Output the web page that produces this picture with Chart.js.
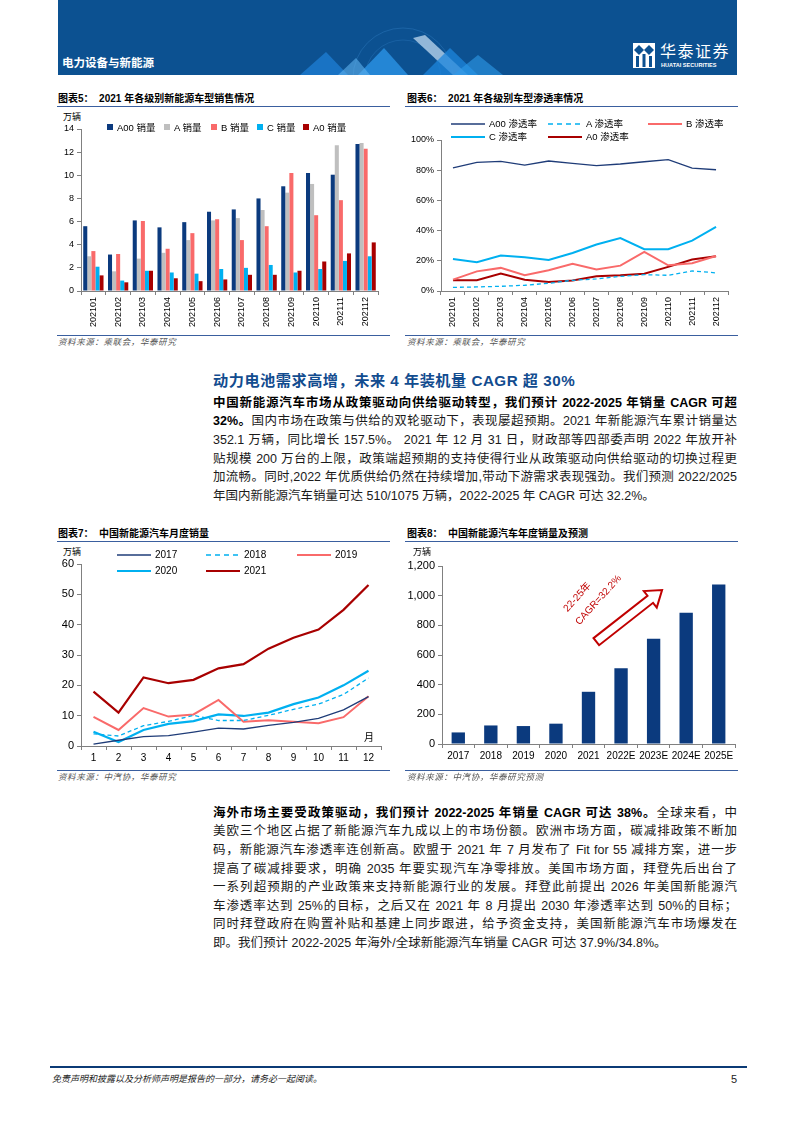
<!DOCTYPE html>
<html>
<head>
<meta charset="utf-8">
<script src="https://cdn.jsdelivr.net/npm/chart.js@4.4.1/dist/chart.umd.min.js"></script>
<style>
body{margin:0;width:793px;height:1122px;position:relative;background:#fff;overflow:hidden;
  font-family:"Liberation Sans","Noto Sans CJK SC",sans-serif;color:#111}
.abs{position:absolute}
.banner{left:58px;top:0;width:679px;height:75px;background:#0C5191;overflow:hidden}
.ctitle{font-size:10px;font-weight:700;line-height:14px;white-space:nowrap;color:#000}
.rule{height:1px;background:#3A5F9F}
.src{font-size:8.5px;line-height:12px;color:#555;letter-spacing:0.6px;font-style:italic}
.leg{font-size:9.5px;line-height:14px;white-space:nowrap;color:#000}
.ln{position:absolute;left:213px;width:524px;height:18.6px;line-height:18.6px;font-size:12.5px;
  text-align:justify;text-align-last:justify;color:#1a1a1a}
.ln.last{text-align-last:left}
.ln b{font-weight:700;color:#000}
.head{left:213px;top:370px;font-size:15.2px;font-weight:700;color:#124C8F;letter-spacing:0.5px;line-height:22px;white-space:nowrap}
</style>
</head>
<body>

<!-- header -->
<div class="abs banner">
  <svg width="679" height="75" style="position:absolute;left:0;top:0">
    <circle cx="345" cy="78" r="50" fill="none" stroke="#3F8FD8" stroke-width="0.6" opacity="0.5"/>
    <circle cx="345" cy="78" r="38" fill="none" stroke="#3F8FD8" stroke-width="0.6" opacity="0.4"/>
    <polygon points="242,75 268,52 290,75" fill="#1E7FD6" opacity="0.75"/>
    <polygon points="300,75 326,48 350,75" fill="#2A93E6" opacity="0.8"/>
    <polygon points="355,38 367,35 410,75 395,75" fill="#BFD9F0" opacity="0.75"/>
    <polygon points="365,75 392,48 420,75" fill="#1C86DC" opacity="0.75"/>
    <polygon points="395,75 420,55 445,75" fill="#2E9BEA" opacity="0.6"/>
    <polygon points="280,75 298,58 312,75" fill="#5FB2EE" opacity="0.6"/>
  </svg>
  <div class="abs" style="left:4px;top:54px;font-size:11.5px;font-weight:700;color:#fff;line-height:16px;font-family:'Noto Sans CJK SC'">电力设备与新能源</div>
  <svg class="abs" style="left:575px;top:43px" width="22" height="25">
    <rect x="0" y="0" width="22" height="25" fill="#fff"/>
    <polygon points="6,2 11,7 6,12 1,7" fill="#0C5191"/>
    <polygon points="16,2 21,7 16,12 11,7" fill="#0C5191"/>
    <rect x="3" y="13" width="3" height="11" fill="#0C5191"/>
    <rect x="9.5" y="11" width="3" height="13" fill="#0C5191"/>
    <rect x="16" y="13" width="3" height="11" fill="#0C5191"/>
  </svg>
  <div class="abs" style="left:602px;top:40px;font-size:16px;color:#fff;line-height:20px;letter-spacing:1.5px;font-family:'Noto Sans CJK SC'">华泰证券</div>
  <div class="abs" style="left:603px;top:61px;font-size:5.6px;font-weight:700;color:#fff;line-height:8px;white-space:nowrap">HUATAI SECURITIES</div>
</div>

<!-- chart 5 -->
<div class="abs ctitle" style="left:58px;top:92px">图表5：&nbsp; 2021 年各级别新能源车型销售情况</div>
<div class="abs rule" style="left:57px;top:106px;width:333px"></div>
<div class="abs leg" style="left:63px;top:110px;font-size:9px">万辆</div>
<canvas id="c5" class="abs" width="345" height="222" style="left:45px;top:112px"></canvas>
<div class="abs rule" style="left:57px;top:335px;width:333px"></div>
<div class="abs src" style="left:58px;top:336px">资料来源：乘联会，华泰研究</div>

<!-- chart 6 -->
<div class="abs ctitle" style="left:407px;top:92px">图表6：&nbsp; 2021 年各级别车型渗透率情况</div>
<div class="abs rule" style="left:405px;top:106px;width:333px"></div>
<canvas id="c6" class="abs" width="345" height="222" style="left:400px;top:112px"></canvas>
<div class="abs rule" style="left:405px;top:335px;width:333px"></div>
<div class="abs src" style="left:407px;top:336px">资料来源：乘联会，华泰研究</div>

<!-- paragraph 1 -->
<div class="abs head">动力电池需求高增，未来 4 年装机量 CAGR 超 30%</div>
<div class="ln" style="top:393.7px"><b>中国新能源汽车市场从政策驱动向供给驱动转型，我们预计 2022-2025 年销量 CAGR 可超</b></div>
<div class="ln" style="top:412.3px"><b>32%。</b>国内市场在政策与供给的双轮驱动下，表现屡超预期。2021 年新能源汽车累计销量达</div>
<div class="ln" style="top:430.9px">352.1 万辆，同比增长 157.5%。 2021 年 12 月 31 日，财政部等四部委声明 2022 年放开补</div>
<div class="ln" style="top:449.5px">贴规模 200 万台的上限，政策端超预期的支持使得行业从政策驱动向供给驱动的切换过程更</div>
<div class="ln" style="top:468.1px">加流畅。同时,2022 年优质供给仍然在持续增加,带动下游需求表现强劲。我们预测 2022/2025</div>
<div class="ln last" style="top:486.7px">年国内新能源汽车销量可达 510/1075 万辆，2022-2025 年 CAGR 可达 32.2%。</div>

<!-- chart 7 -->
<div class="abs ctitle" style="left:58px;top:527px">图表7：&nbsp; 中国新能源汽车月度销量</div>
<div class="abs rule" style="left:57px;top:541px;width:333px"></div>
<div class="abs leg" style="left:63px;top:545px;font-size:9px">万辆</div>
<canvas id="c7" class="abs" width="345" height="222" style="left:45px;top:545px"></canvas>
<div class="abs leg" style="left:364px;top:731px;font-size:10px">月</div>
<div class="abs rule" style="left:57px;top:770px;width:333px"></div>
<div class="abs src" style="left:58px;top:771px">资料来源：中汽协，华泰研究</div>

<!-- chart 8 -->
<div class="abs ctitle" style="left:407px;top:527px">图表8：&nbsp; 中国新能源汽车年度销量及预测</div>
<div class="abs rule" style="left:405px;top:541px;width:333px"></div>
<div class="abs leg" style="left:413px;top:545px;font-size:9px">万辆</div>
<canvas id="c8" class="abs" width="345" height="222" style="left:400px;top:545px"></canvas>
<div class="abs rule" style="left:405px;top:770px;width:333px"></div>
<div class="abs src" style="left:407px;top:771px">资料来源：中汽协，华泰研究预测</div>

<!-- paragraph 2 -->
<div class="ln" style="top:803.7px"><b>海外市场主要受政策驱动，我们预计 2022-2025 年销量 CAGR 可达 38%。</b>全球来看，中</div>
<div class="ln" style="top:822.3px">美欧三个地区占据了新能源汽车九成以上的市场份额。欧洲市场方面，碳减排政策不断加</div>
<div class="ln" style="top:840.9px">码，新能源汽车渗透率连创新高。欧盟于 2021 年 7 月发布了 Fit for 55 减排方案，进一步</div>
<div class="ln" style="top:859.5px">提高了碳减排要求，明确 2035 年要实现汽车净零排放。美国市场方面，拜登先后出台了</div>
<div class="ln" style="top:878.1px">一系列超预期的产业政策来支持新能源行业的发展。拜登此前提出 2026 年美国新能源汽</div>
<div class="ln" style="top:896.7px">车渗透率达到 25%的目标，之后又在 2021 年 8 月提出 2030 年渗透率达到 50%的目标；</div>
<div class="ln" style="top:915.3px">同时拜登政府在购置补贴和基建上同步跟进，给予资金支持，美国新能源汽车市场爆发在</div>
<div class="ln last" style="top:933.9px">即。我们预计 2022-2025 年海外/全球新能源汽车销量 CAGR 可达 37.9%/34.8%。</div>

<!-- footer -->
<div class="abs" style="left:50px;top:1066px;width:697px;height:2px;background:#0B3A75"></div>
<div class="abs" style="left:52px;top:1072px;font-size:9px;line-height:14px;font-style:italic;color:#222">免责声明和披露以及分析师声明是报告的一部分，请务必一起阅读。</div>
<div class="abs" style="left:731px;top:1072px;font-size:11px;line-height:15px;color:#222">5</div>

<script>
// ---- data ----
var months2021 = ["202101", "202102", "202103", "202104", "202105", "202106",
                  "202107", "202108", "202109", "202110", "202111", "202112"];
var a00Sales = [5.6, 3.15, 6.1, 5.5, 5.95, 6.85, 7.05, 8.0, 9.05, 10.2, 10.05, 12.7];
var aSales   = [3.0, 1.7, 2.8, 3.3, 4.4, 6.1, 6.3, 7.0, 8.5, 9.25, 12.6, 12.8];
var bSales   = [3.45, 3.2, 6.05, 3.65, 5.0, 6.2, 4.4, 5.6, 10.2, 6.55, 7.85, 12.3];
var cSales   = [2.1, 0.9, 1.75, 1.6, 1.5, 1.9, 2.0, 2.25, 1.6, 1.9, 2.6, 3.0];
var a0Sales  = [1.35, 0.75, 1.75, 1.1, 0.85, 1.0, 1.4, 1.4, 1.75, 2.55, 3.25, 4.2];

var a00Rate = [81.6, 85.2, 85.8, 83.4, 86.1, 84.5, 83.0, 84.1, 85.6, 87.0, 81.4, 80.3];
var aRate   = [2.4, 2.7, 3.1, 3.8, 5.1, 7.1, 8.0, 9.7, 10.8, 10.4, 13.3, 12.0];
var bRate   = [7.5, 13.0, 15.3, 10.4, 13.7, 18.0, 14.2, 16.8, 25.9, 17.0, 18.4, 23.2];
var cRate   = [21.2, 19.0, 23.5, 22.3, 20.6, 25.2, 30.8, 35.0, 27.7, 27.7, 33.4, 42.5];
var a0Rate  = [7.1, 7.1, 11.5, 7.5, 6.0, 6.9, 9.7, 10.4, 11.5, 16.0, 20.8, 23.0];

var monthLabels = ["1", "2", "3", "4", "5", "6", "7", "8", "9", "10", "11", "12"];
var sales2017 = [0.6, 1.9, 3.1, 3.4, 4.6, 5.9, 5.6, 6.8, 7.8, 9.1, 11.9, 16.3];
var sales2018 = [4.0, 3.3, 6.7, 8.1, 10.1, 8.4, 8.4, 10.1, 12.1, 13.8, 17.0, 22.4];
var sales2019 = [9.6, 5.3, 12.5, 9.7, 10.4, 15.2, 8.0, 8.5, 8.0, 7.5, 9.5, 16.4];
var sales2020 = [4.7, 1.3, 5.3, 7.3, 8.2, 10.4, 9.9, 11.0, 13.8, 16.0, 20.0, 24.8];
var sales2021 = [17.9, 11.0, 22.6, 20.7, 21.8, 25.6, 27.0, 32.1, 35.7, 38.4, 44.9, 53.1];

var years = ["2017", "2018", "2019", "2020", "2021", "2022E", "2023E", "2024E", "2025E"];
var yearSales = [78, 125, 121, 137, 352, 510, 710, 885, 1075];

var navy = "#0B3A7E", grey = "#BFBFBF", salmon = "#F96A6A", cyan = "#00B0F0", darkRed = "#A80000";

Chart.defaults.font.family = '"Liberation Sans", "Noto Sans CJK SC", sans-serif';
Chart.defaults.color = "#000";
Chart.defaults.animation = false;
Chart.defaults.plugins.legend.display = false;
Chart.defaults.plugins.tooltip.enabled = false;

function yAxis(max, step, width, size, fmt) {
  return {
    min: 0, max: max,
    ticks: { stepSize: step, font: { size: size }, padding: 3, callback: fmt },
    grid: { drawOnChartArea: false, drawTicks: true, tickLength: 4, color: "#808080" },
    border: { color: "#808080" },
    afterFit: function (s) { s.width = width; }
  };
}

function xAxis(height, size, rotate) {
  return {
    offset: true,
    ticks: { autoSkip: false, font: { size: size }, maxRotation: rotate, minRotation: rotate, padding: 2 },
    grid: { offset: true, drawOnChartArea: false, drawTicks: true, tickLength: 4, color: "#808080" },
    border: { color: "#808080" },
    afterFit: function (s) { s.height = height; }
  };
}

function boxLegend(datasets, slots, size) {
  datasets.forEach(function (d, i) {
    var el = document.createElement("div");
    el.className = "abs leg";
    el.style.left = slots[i][0] + "px";
    el.style.top = (slots[i][1] - 7) + "px";
    el.style.fontSize = size + "px";
    el.innerHTML = '<span style="display:inline-block;width:6px;height:6px;background:' + d.backgroundColor +
      ';margin-right:4px;vertical-align:1px"></span>' + d.label;
    document.body.appendChild(el);
  });
}

function lineLegend(datasets, slots, size) {
  datasets.forEach(function (d, i) {
    var el = document.createElement("div");
    el.className = "abs leg";
    el.style.left = slots[i][0] + "px";
    el.style.top = (slots[i][1] - 7) + "px";
    el.style.fontSize = size + "px";
    var dash = d.borderDash ? ' stroke-dasharray="5,4"' : "";
    el.innerHTML = '<svg width="34" height="14" style="vertical-align:top"><line x1="0" y1="7" x2="34" y2="7" stroke="' +
      d.borderColor + '" stroke-width="' + d.borderWidth + '"' + dash + '/></svg><span style="margin-left:4px">' + d.label + "</span>";
    document.body.appendChild(el);
  });
}

function line(label, data, color, width, dashed) {
  return { label: label, data: data, borderColor: color, backgroundColor: color, borderWidth: width,
    borderDash: dashed ? [4, 3] : undefined, pointRadius: 0, tension: 0, fill: false };
}

// ---- chart 5 ----
var ds5 = [
  { label: "A00 销量", data: a00Sales, backgroundColor: navy },
  { label: "A 销量", data: aSales, backgroundColor: grey },
  { label: "B 销量", data: bSales, backgroundColor: salmon },
  { label: "C 销量", data: cSales, backgroundColor: cyan },
  { label: "A0 销量", data: a0Sales, backgroundColor: darkRed }
];
new Chart(document.getElementById("c5"), {
  type: "bar",
  data: { labels: months2021, datasets: ds5 },
  options: {
    responsive: false,
    layout: { padding: { top: 17, right: 12, left: 0, bottom: 0 } },
    datasets: { bar: { categoryPercentage: 0.82, barPercentage: 1 } },
    scales: { x: xAxis(43, 9, 90), y: yAxis(14, 2, 36, 9) }
  }
});
boxLegend(ds5, [[107, 128], [164, 128], [211, 128], [257, 128], [303, 128]], 9.5);

// ---- chart 6 ----
var ds6 = [
  line("A00 渗透率", a00Rate, "#1F3C78", 1.3),
  line("A 渗透率", aRate, cyan, 1.3, true),
  line("B 渗透率", bRate, salmon, 2),
  line("C 渗透率", cRate, cyan, 2),
  line("A0 渗透率", a0Rate, darkRed, 2)
];
new Chart(document.getElementById("c6"), {
  type: "line",
  data: { labels: months2021, datasets: ds6 },
  options: {
    responsive: false,
    layout: { padding: { top: 28, right: 17, left: 0, bottom: 0 } },
    scales: { x: xAxis(43, 9, 90), y: yAxis(100, 20, 41, 9, function (v) { return v + "%"; }) }
  }
});
lineLegend(ds6, [[451, 124], [548, 124], [648, 124], [451, 137], [548, 137]], 9.5);

// ---- chart 7 ----
var ds7 = [
  line("2017", sales2017, "#1F3C78", 1.3),
  line("2018", sales2018, cyan, 1.3, true),
  line("2019", sales2019, salmon, 2),
  line("2020", sales2020, cyan, 2.2),
  line("2021", sales2021, darkRed, 2.2)
];
new Chart(document.getElementById("c7"), {
  type: "line",
  data: { labels: monthLabels, datasets: ds7 },
  options: {
    responsive: false,
    layout: { padding: { top: 19, right: 9, left: 0, bottom: 0 } },
    scales: { x: xAxis(21, 10, 0), y: yAxis(60, 10, 36, 11) }
  }
});
lineLegend(ds7, [[117, 555], [206, 555], [297, 555], [117, 571], [206, 571]], 10);

// ---- chart 8 ----
var cagrArrow = {
  id: "cagrArrow",
  afterDatasetsDraw: function (chart) {
    var ctx = chart.ctx, x = chart.scales.x, y = chart.scales.y;
    var step = x.getPixelForValue(1) - x.getPixelForValue(0);
    var x0 = x.getPixelForValue(4) + 0.24 * step, y0 = y.getPixelForValue(690);
    var x1 = x.getPixelForValue(6) + 0.26 * step, y1 = y.getPixelForValue(1038);
    var len = Math.hypot(x1 - x0, y1 - y0);
    ctx.save();
    ctx.translate(x0, y0);
    ctx.rotate(Math.atan2(y1 - y0, x1 - x0));
    ctx.beginPath();
    ctx.moveTo(0, -4.5); ctx.lineTo(len - 15, -4.5); ctx.lineTo(len - 15, -10.5);
    ctx.lineTo(len, 0); ctx.lineTo(len - 15, 10.5); ctx.lineTo(len - 15, 4.5); ctx.lineTo(0, 4.5);
    ctx.closePath();
    ctx.fillStyle = "#fff"; ctx.fill();
    ctx.strokeStyle = "#C00000"; ctx.lineWidth = 2; ctx.stroke();
    ctx.restore();

    ctx.save();
    ctx.fillStyle = "#C00000";
    ctx.font = '10px "Liberation Sans", "Noto Sans CJK SC", sans-serif';
    ctx.textAlign = "center"; ctx.textBaseline = "middle";
    [["22-25年", -0.34, 990], ["CAGR=32.2%", 0.31, 970]].forEach(function (t) {
      ctx.save();
      ctx.translate(x.getPixelForValue(4) + t[1] * step, y.getPixelForValue(t[2]));
      ctx.rotate(-48 * Math.PI / 180);
      ctx.fillText(t[0], 0, 0);
      ctx.restore();
    });
    ctx.restore();
  }
};
new Chart(document.getElementById("c8"), {
  type: "bar",
  data: { labels: years, datasets: [{ label: "销量", data: yearSales, backgroundColor: navy }] },
  options: {
    responsive: false,
    layout: { padding: { top: 21, right: 10, left: 0, bottom: 0 } },
    datasets: { bar: { categoryPercentage: 1, barPercentage: 0.41 } },
    scales: { x: xAxis(23, 10, 0), y: yAxis(1200, 200, 42, 11, function (v) { return v.toLocaleString("en-US"); }) }
  },
  plugins: [cagrArrow]
});
</script>
</body>
</html>
